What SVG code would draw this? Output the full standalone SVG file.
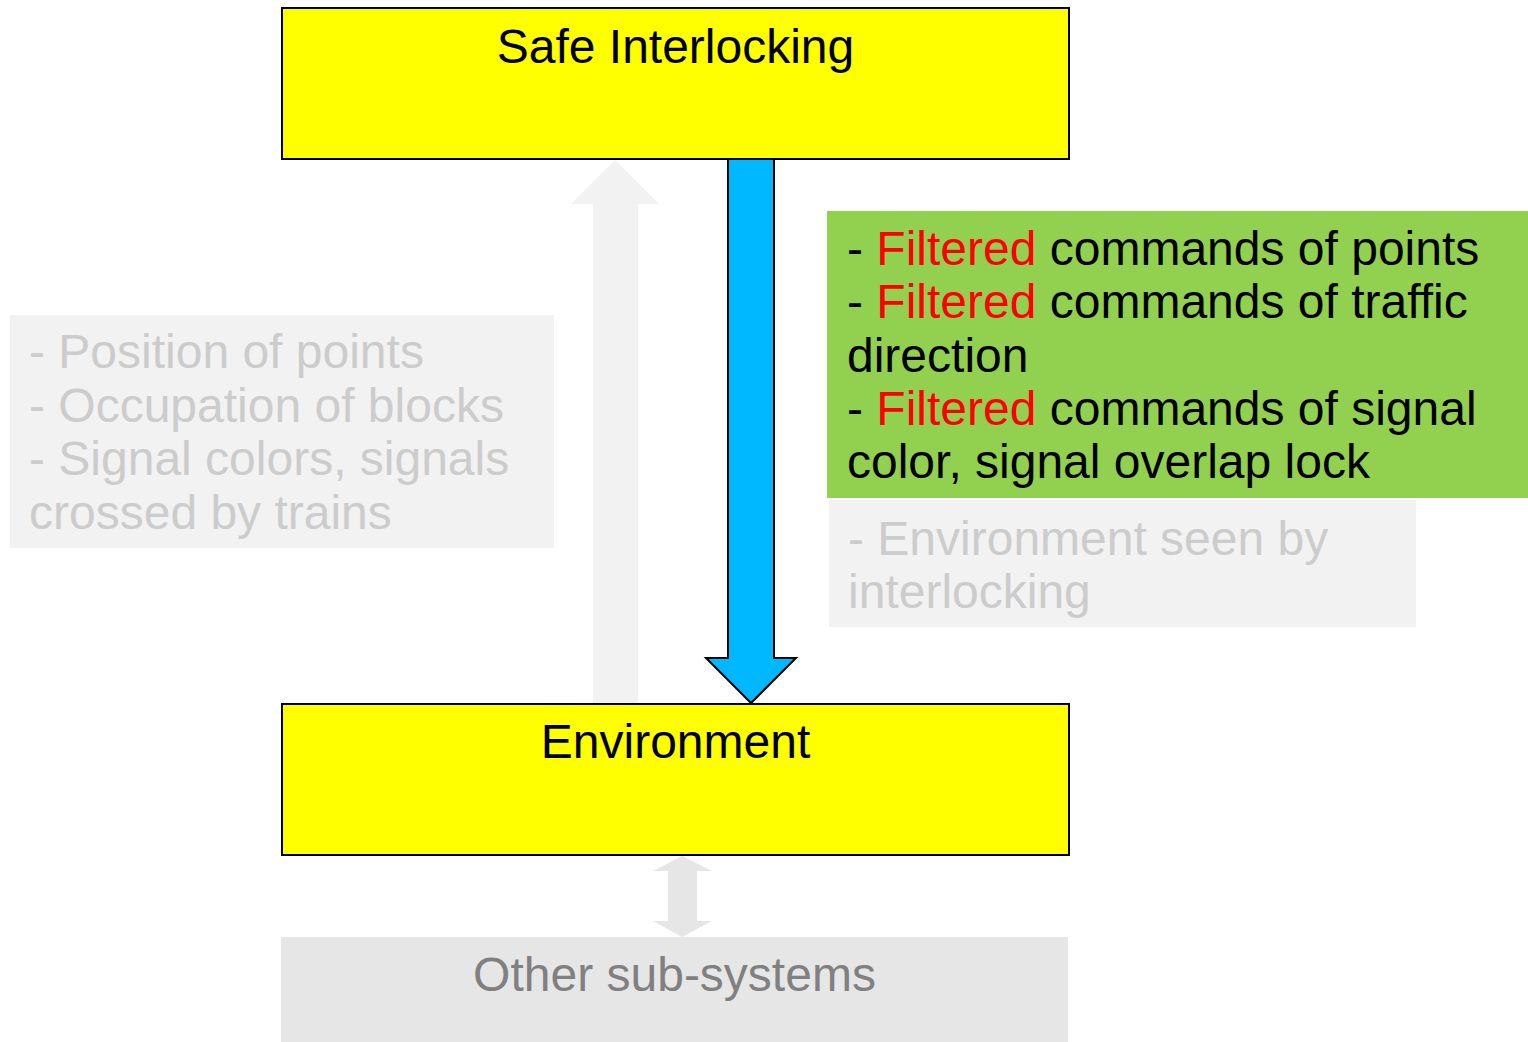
<svg xmlns="http://www.w3.org/2000/svg" width="1528" height="1042" viewBox="0 0 1528 1042">
  <style>
    text { font-family: "Liberation Sans", Arial, sans-serif; font-size: 48px; }
    .box { fill: #ffff00; stroke: #000000; stroke-width: 2; }
    .title { fill: #000000; text-anchor: middle; }
    .faint { fill: #cccccc; }
    .dark { fill: #000000; }
    .red { fill: #ff0000; }
  </style>
  <rect width="1528" height="1042" fill="#ffffff"/>

  <!-- connectors -->
  <g id="connectors">
    <!-- feedback arrow: environment up to interlocking -->
    <polygon id="arrow-up" points="593,704 638,704 638,204 659,204 615,160 571,204 593,204" fill="#f2f2f2"/>
    <!-- command arrow: interlocking down to environment -->
    <polygon id="arrow-down" points="728,159 774,159 774,658 796,658 751,703 706,658 728,658" fill="#00b8ff" stroke="#000000" stroke-width="2"/>
    <!-- two-way link: environment and other sub-systems -->
    <polygon id="arrow-both" points="682,856 712,871 697,871 697,921 712,921 682,937 653,921 668,921 668,871 653,871" fill="#e6e6e6"/>
  </g>

  <g id="safe-interlocking">
    <rect class="box" x="282" y="8" width="787" height="151"/>
    <text class="title" x="675.5" y="63">Safe Interlocking</text>
  </g>

  <g id="environment">
    <rect class="box" x="282" y="704" width="787" height="151"/>
    <text class="title" x="675.5" y="758">Environment</text>
  </g>

  <g id="other-sub-systems">
    <rect x="281" y="937" width="787" height="105" fill="#e6e6e6"/>
    <text x="674.5" y="991" text-anchor="middle" fill="#808080">Other sub-systems</text>
  </g>

  <g id="sensed-state">
    <rect x="10" y="315" width="544" height="233" fill="#f2f2f2"/>
    <text class="faint" x="29" y="368">- Position of points</text>
    <text class="faint" x="29" y="422">- Occupation of blocks</text>
    <text class="faint" x="29" y="475">- Signal colors, signals</text>
    <text class="faint" x="29" y="529">crossed by trains</text>
  </g>

  <g id="filtered-commands">
    <rect x="827" y="211" width="701" height="287" fill="#92d050"/>
    <text class="dark" x="847" y="265">- <tspan class="red">Filtered</tspan> commands of points</text>
    <text class="dark" x="847" y="318">- <tspan class="red">Filtered</tspan> commands of traffic</text>
    <text class="dark" x="847" y="372">direction</text>
    <text class="dark" x="847" y="425">- <tspan class="red">Filtered</tspan> commands of signal</text>
    <text class="dark" x="847" y="478">color, signal overlap lock</text>
  </g>

  <g id="environment-view">
    <rect x="829" y="500" width="587" height="127" fill="#f2f2f2"/>
    <text class="faint" x="848" y="555">- Environment seen by</text>
    <text class="faint" x="848" y="608">interlocking</text>
  </g>
</svg>
